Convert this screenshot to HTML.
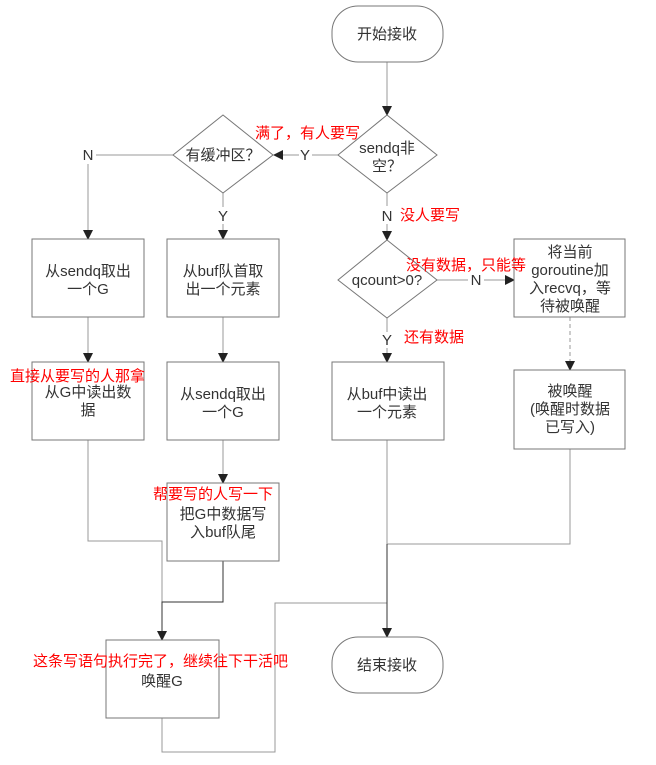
<!DOCTYPE html>
<html><head><meta charset="utf-8"><style>
html,body{margin:0;padding:0;background:#fff;}
svg{display:block;}
text{font-family:"Liberation Sans","Noto Sans CJK SC",sans-serif;font-size:15px;fill:#333;}
.r{fill:#f00;}
</style></head><body>
<svg width="656" height="765" viewBox="0 0 656 765">
<defs><marker id="a" markerWidth="10" markerHeight="10" refX="9" refY="5" orient="auto" markerUnits="userSpaceOnUse"><path d="M0,0 L10,5 L0,10 z" fill="#222"/></marker></defs>
<g fill="none" stroke="#999" stroke-width="1">
<line x1="387" y1="62" x2="387" y2="115" marker-end="url(#a)"/>
<line x1="338" y1="155" x2="312" y2="155"/>
<line x1="299" y1="155" x2="274" y2="155" marker-end="url(#a)"/>
<line x1="173" y1="155" x2="96" y2="155"/>
<line x1="88" y1="164" x2="88" y2="239" marker-end="url(#a)"/>
<line x1="223" y1="193" x2="223" y2="207"/>
<line x1="223" y1="224" x2="223" y2="239" marker-end="url(#a)"/>
<line x1="88" y1="317" x2="88" y2="362" marker-end="url(#a)"/>
<line x1="223" y1="317" x2="223" y2="362" marker-end="url(#a)"/>
<line x1="223" y1="440" x2="223" y2="483" marker-end="url(#a)"/>
<polyline points="88,440 88,541 162,541 162,602"/>
<polyline points="223,561 223,602 162,602 162,640" stroke="#333" marker-end="url(#a)"/>
<polyline points="162,718 162,752 275,752 275,603 387,603"/>
<line x1="387" y1="193" x2="387" y2="206"/>
<line x1="387" y1="224" x2="387" y2="240" marker-end="url(#a)"/>
<line x1="437" y1="280" x2="468" y2="280"/>
<line x1="484" y1="280" x2="514" y2="280" marker-end="url(#a)"/>
<line x1="387" y1="318" x2="387" y2="332"/>
<line x1="387" y1="348" x2="387" y2="362" marker-end="url(#a)"/>
<line x1="570" y1="317" x2="570" y2="370" stroke-dasharray="4,3" marker-end="url(#a)"/>
<line x1="387" y1="440" x2="387" y2="544"/>
<polyline points="387,544 570,544 570,449"/>
<line x1="387" y1="544" x2="387" y2="637" stroke="#333" marker-end="url(#a)"/>
</g>
<g fill="#fff" stroke="#777" stroke-width="1">
<rect x="332" y="6" width="111" height="56" rx="26"/>
<rect x="332" y="637" width="111" height="56" rx="26"/>
<polygon points="387,115 437,155 387,193 338,155"/>
<polygon points="223,115 273,155 223,193 173,155"/>
<polygon points="387,240 437,280 387,318 338,280"/>
<rect x="32" y="239" width="112" height="78"/>
<rect x="167" y="239" width="112" height="78"/>
<rect x="32" y="362" width="112" height="78"/>
<rect x="167" y="362" width="112" height="78"/>
<rect x="167" y="483" width="112" height="78"/>
<rect x="106" y="640" width="113" height="78"/>
<rect x="332" y="362" width="112" height="78"/>
<rect x="514" y="239" width="111" height="78"/>
<rect x="514" y="370" width="111" height="79"/>
</g>
<g text-anchor="middle">
<text x="387" y="39">开始接收</text>
<text x="387" y="670">结束接收</text>
<text x="387" y="153">sendq非</text>
<text x="387" y="171">空？</text>
<text x="223" y="160">有缓冲区？</text>
<text x="387" y="285">qcount&gt;0?</text>
<text x="305" y="160">Y</text>
<text x="88" y="160">N</text>
<text x="223" y="221">Y</text>
<text x="387" y="221">N</text>
<text x="476" y="285">N</text>
<text x="387" y="345">Y</text>
<text x="88" y="276">从sendq取出</text>
<text x="88" y="294">一个G</text>
<text x="223" y="276">从buf队首取</text>
<text x="223" y="294">出一个元素</text>
<text x="88" y="397">从G中读出数</text>
<text x="88" y="415">据</text>
<text x="223" y="399">从sendq取出</text>
<text x="223" y="417">一个G</text>
<text x="223" y="519">把G中数据写</text>
<text x="223" y="537">入buf队尾</text>
<text x="162" y="686">唤醒G</text>
<text x="387" y="399">从buf中读出</text>
<text x="387" y="417">一个元素</text>
<text x="570" y="257">将当前</text>
<text x="570" y="275">goroutine加</text>
<text x="570" y="293">入recvq，等</text>
<text x="570" y="311">待被唤醒</text>
<text x="570" y="396">被唤醒</text>
<text x="570" y="414">(唤醒时数据</text>
<text x="570" y="432">已写入)</text>
</g>
<g>
<text class="r" x="255" y="138">满了，有人要写</text>
<text class="r" x="400" y="220">没人要写</text>
<text class="r" x="406" y="270">没有数据，只能等</text>
<text class="r" x="404" y="342">还有数据</text>
<text class="r" x="10" y="381">直接从要写的人那拿</text>
<text class="r" x="153" y="499">帮要写的人写一下</text>
<text class="r" x="33" y="666">这条写语句执行完了，继续往下干活吧</text>
</g>
</svg>
</body></html>
